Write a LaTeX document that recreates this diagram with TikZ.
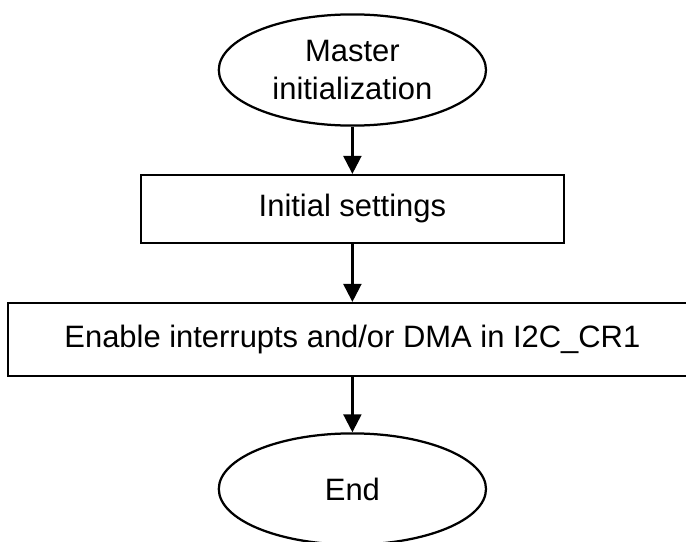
\documentclass[tikz,border=0pt]{standalone}
\usepackage{fontspec}
\setmainfont{Liberation Sans}
\usepackage{tikz}
\usetikzlibrary{arrows.meta, shapes.geometric}

\begin{document}
\begin{tikzpicture}[
    flowline/.style={line width=1.6pt, -{Triangle[length=0.45cm, width=0.45cm]}},
    terminal/.style={ellipse, draw, line width=1.6pt, minimum width=6.68cm, minimum height=2.78cm,
                     inner sep=0pt, align=center, font=\fontsize{22}{27}\selectfont},
    stepbox/.style={rectangle, draw, line width=1.6pt, inner sep=0pt, font=\fontsize{22}{27}\selectfont}]
  % Page frame
  \useasboundingbox (0,0) rectangle (17.15,13.525);
  \clip (0,0) rectangle (17.15,13.525);
  \fill[white] (0,0) rectangle (17.15,13.525);

  % Start / end ellipses and steps
  \node[terminal] (master) at (8.81,11.775) {Master\\initialization};
  \node[stepbox, minimum width=10.575cm, minimum height=1.7cm] (settings) at (8.81,8.3) {Initial settings};
  \node[stepbox, minimum width=17.225cm, minimum height=1.825cm] (enable) at (8.81,5.0375)
       {Enable interrupts and/or DMA in I2C\_CR1};
  \node[terminal] (finish) at (8.81,1.3) {End};

  % Flow
  \draw[flowline] (master) -- (settings);
  \draw[flowline] (settings) -- (enable);
  \draw[flowline] (enable) -- (finish);
\end{tikzpicture}
\end{document}
